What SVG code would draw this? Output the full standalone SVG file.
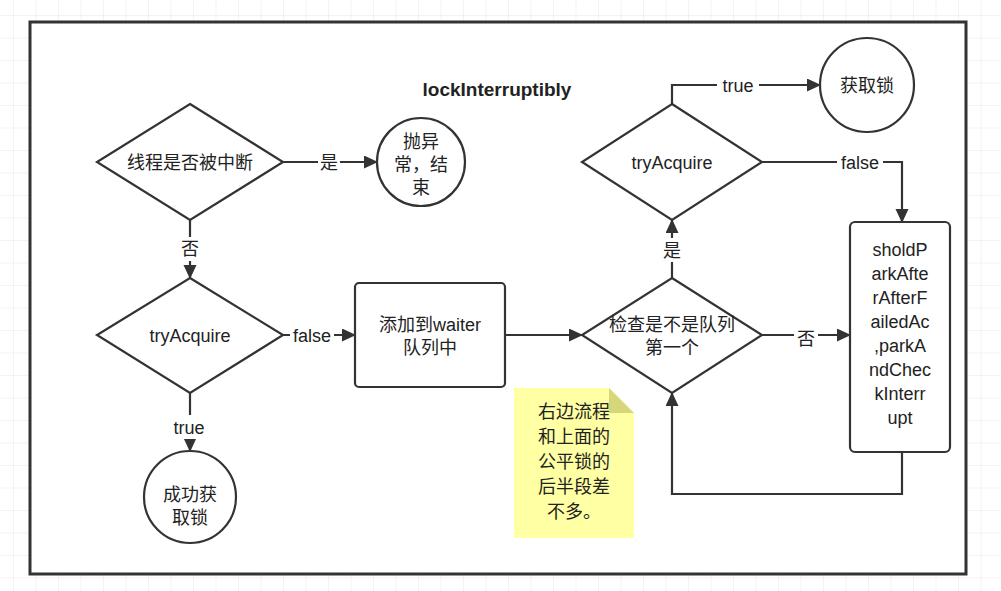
<svg xmlns="http://www.w3.org/2000/svg" width="1001" height="591" viewBox="0 0 1001 591">
<defs>
<pattern id="grid" width="22.5" height="22.5" patternUnits="userSpaceOnUse" x="13" y="15">
<path d="M0 0H22.5M0 0V22.5" stroke="#e8e8e8" stroke-width="1" fill="none"/>
</pattern>
<marker id="arr" markerWidth="14" markerHeight="14" refX="13" refY="6.5" orient="auto" markerUnits="userSpaceOnUse">
<path d="M0 0L14 6.5L0 13Z" fill="#333"/>
</marker>
<style>
.s{fill:#fff;stroke:#333;stroke-width:2.2}
.t{font-family:"Liberation Sans","Noto Sans CJK SC",sans-serif;font-size:18px;fill:#222;text-anchor:middle}
.c{stroke:#333;stroke-width:2.2;fill:none;marker-end:url(#arr)}
.l{font-family:"Liberation Sans","Noto Sans CJK SC",sans-serif;font-size:18px;fill:#222;text-anchor:middle}
</style>
</defs>
<rect width="1001" height="591" fill="#fff"/>
<rect width="1001" height="591" fill="url(#grid)"/>
<rect x="30" y="22" width="936" height="552" fill="#fff" stroke="#333" stroke-width="3"/>
<text x="497" y="96" class="t" font-weight="bold" style="font-size:19px">lockInterruptibly</text>
<g id="connectors">
<path class="c" d="M283 162H377"/>
<path class="c" d="M190 220V278"/>
<path class="c" d="M283 335H355"/>
<path class="c" d="M190 393V451"/>
<path class="c" d="M505 335H582"/>
<path class="c" d="M762 335H850"/>
<path class="c" d="M672 278V220"/>
<path class="c" d="M672 104V85H820"/>
<path class="c" d="M762 162H902V222"/>
<path class="c" d="M902 452V494H672V393"/>
<rect x="318" y="150" width="22" height="24" fill="#fff"/><text x="329" y="169" class="l">是</text>
<rect x="178" y="237" width="24" height="24" fill="#fff"/><text x="190" y="255" class="l">否</text>
<rect x="290" y="323" width="44" height="24" fill="#fff"/><text x="312" y="342" class="l">false</text>
<rect x="170" y="415" width="40" height="24" fill="#fff"/><text x="189" y="434" class="l">true</text>
<rect x="794" y="326" width="24" height="24" fill="#fff"/><text x="806" y="345" class="l">否</text>
<rect x="660" y="238" width="24" height="24" fill="#fff"/><text x="672" y="257" class="l">是</text>
<rect x="717" y="73" width="42" height="24" fill="#fff"/><text x="738" y="92" class="l">true</text>
<rect x="837" y="150" width="46" height="24" fill="#fff"/><text x="860" y="169" class="l">false</text>
</g>
<g id="d1"><path class="s" d="M190 104L283 162L190 220L97 162Z"/><text x="190" y="169" class="t">线程是否被中断</text></g>
<g id="e1"><circle class="s" cx="421" cy="162" r="44"/><text x="421" y="148" class="t">抛异</text><text x="421" y="171" class="t">常，结</text><text x="421" y="194" class="t">束</text></g>
<g id="d2"><path class="s" d="M190 278L283 335L190 393L97 335Z"/><text x="190" y="342" class="t">tryAcquire</text></g>
<g id="e2"><circle class="s" cx="190" cy="497" r="46"/><text x="190" y="501" class="t">成功获</text><text x="190" y="524" class="t">取锁</text></g>
<g id="r1"><rect class="s" x="355" y="283" width="150" height="104" rx="4"/><text x="430" y="331" class="t">添加到waiter</text><text x="430" y="354" class="t">队列中</text></g>
<g id="d3"><path class="s" d="M672 278L762 335L672 393L582 335Z"/><text x="672" y="331" class="t">检查是不是队列</text><text x="672" y="354" class="t">第一个</text></g>
<g id="d4"><path class="s" d="M672 104L762 162L672 220L582 162Z"/><text x="672" y="169" class="t">tryAcquire</text></g>
<g id="e3"><circle class="s" cx="867" cy="85" r="47"/><text x="867" y="92" class="t">获取锁</text></g>
<g id="r2"><rect class="s" x="850" y="222" width="100" height="230" rx="5"/>
<text class="t" x="900"><tspan x="900" y="256">sholdP</tspan><tspan x="900" y="280">arkAfte</tspan><tspan x="900" y="304">rAfterF</tspan><tspan x="900" y="328">ailedAc</tspan><tspan x="900" y="352">,parkA</tspan><tspan x="900" y="376">ndChec</tspan><tspan x="900" y="400">kInterr</tspan><tspan x="900" y="424">upt</tspan></text></g>
<g id="note"><path d="M514 388H609L634 413V538H514Z" fill="#ffff99" fill-opacity="0.9"/><path d="M609 388V413H634Z" fill="#d6d67a"/>
<text class="t" x="574"><tspan x="574" y="418">右边流程</tspan><tspan x="574" y="443">和上面的</tspan><tspan x="574" y="468">公平锁的</tspan><tspan x="574" y="493">后半段差</tspan><tspan x="574" y="518">不多。</tspan></text></g>
</svg>
